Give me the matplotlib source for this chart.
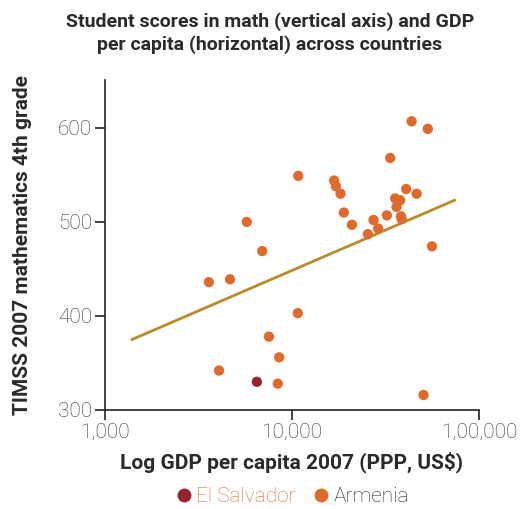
import matplotlib.pyplot as plt
import matplotlib.ticker as mticker
from matplotlib.lines import Line2D

# GDP per capita (PPP, US$) and TIMSS 2007 4th grade maths score
gdp = [3600, 4670, 6940, 5740, 10820, 10760, 7540, 8550, 4080, 8410,
       43650, 53300, 33570, 16830, 17180, 18200, 18960, 20940, 25480, 27330,
       28940, 32200, 35660, 37920, 36290, 40840, 46430, 38300, 38650, 56100,
       50560]
score = [436, 439, 469, 500, 549, 403, 378, 356, 342, 328,
         607, 599, 568, 544, 538, 530, 510, 497, 487, 502,
         493, 507, 525, 523, 516, 535, 530, 506, 503, 474,
         316]
es_gdp = [6500]
es_score = [330]
trend_x = [1400, 74000]
trend_y = [375, 523]

orange = "#E2692C"
darkred = "#98222A"
gold = "#B98B2B"
text_col = "#2a2a2a"
tick_col = "#333333"

plt.rcParams["font.family"] = ["Roboto", "DejaVu Sans"]

fig = plt.figure(figsize=(5.24, 5.09), dpi=100)
ax = fig.add_axes([0.200, 0.1945, 0.714, 0.6485])

ax.plot(trend_x, trend_y, color=gold, lw=2, zorder=2)
ax.scatter(gdp, score, s=55, color=orange, edgecolors="none", zorder=3)
ax.scatter(es_gdp, es_score, s=55, color=darkred, edgecolors="none", zorder=4)

ax.set_xscale("log")
ax.set_xlim(1000, 100000)
ax.set_ylim(300, 651)
ax.set_xticks([1000, 10000, 100000])
ax.xaxis.set_minor_locator(mticker.NullLocator())
ax.set_xticklabels(["1,000", "10,000", "1,00,000"])
ax.set_yticks([300, 400, 500, 600])

for s in ["top", "right"]:
    ax.spines[s].set_visible(False)
for s in ["left", "bottom"]:
    ax.spines[s].set_color("#222222")
    ax.spines[s].set_linewidth(1.2)
ax.tick_params(axis="both", direction="out", length=7, width=1.2, color="#222222",
               labelsize=15, labelcolor=tick_col, pad=2)
for lab in ax.get_xticklabels() + ax.get_yticklabels():
    lab.set_fontweight("light")

ax.set_xlabel("Log GDP per capita 2007 (PPP, US$)", fontsize=15, fontweight="bold",
              color=text_col, labelpad=7)
ax.set_ylabel("TIMSS 2007 mathematics 4th grade", fontsize=15, fontweight="bold",
              color=text_col, labelpad=19)

fig.text(0.515, 0.976, "Student scores in math (vertical axis) and GDP\nper capita (horizontal) across countries",
         ha="center", va="top", fontsize=14, fontweight="bold", color=text_col, linespacing=1.3)

handles = [Line2D([], [], marker="o", ls="", color=darkred, markersize=9),
           Line2D([], [], marker="o", ls="", color=orange, markersize=9)]
leg = fig.legend(handles, ["El Salvador", "Armenia"], loc="center", bbox_to_anchor=(0.556, 0.024),
                 ncol=2, frameon=False, fontsize=15, handletextpad=0.1, columnspacing=0.7,
                 handlelength=1.0)
leg.get_texts()[0].set_color(orange)
leg.get_texts()[1].set_color(text_col)
for t in leg.get_texts():
    t.set_fontweight("light")

fig.savefig("out.png", dpi=100)
